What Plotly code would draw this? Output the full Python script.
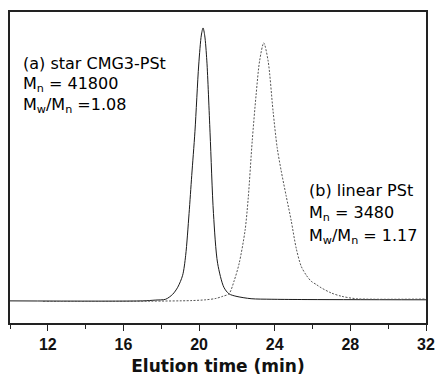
import plotly.graph_objects as go

# Elution time (min) and normalized detector response (a.u.)
t_star = [10.0, 17.0, 17.70, 18.23, 18.60, 18.87, 19.13, 19.29, 19.47, 19.61, 19.78, 19.98,
          20.12, 20.21, 20.30, 20.41, 20.58, 20.76, 20.98, 21.31, 21.58, 21.95, 22.75,
          23.81, 25.40, 32.0]
i_star = [-0.002, -0.002, 0.001, 0.004, 0.022, 0.048, 0.092, 0.165, 0.319, 0.458, 0.619, 0.864,
          0.974, 1.0, 0.971, 0.879, 0.615, 0.319, 0.136, 0.048, 0.024, 0.015, 0.006,
          0.004, 0.003, 0.002]

t_lin = [11.75, 14.78, 17.43, 19.56, 20.36, 20.89, 21.26, 21.58, 21.86, 22.12, 22.43, 22.60,
         22.81, 23.01, 23.20, 23.42, 23.65, 23.91, 24.13, 24.34, 24.60, 24.87, 25.14, 25.40,
         25.67, 25.93, 26.20, 26.46, 26.99, 27.53, 28.32, 32.0]
i_lin = [-0.004, -0.004, -0.003, -0.001, 0.002, 0.007, 0.015, 0.024, 0.073, 0.136, 0.256, 0.377,
         0.586, 0.751, 0.879, 0.945, 0.879, 0.696, 0.560, 0.476, 0.385, 0.293, 0.190, 0.125,
         0.092, 0.070, 0.058, 0.046, 0.027, 0.015, 0.006, 0.005]

tick_vals = [12, 16, 20, 24, 28, 32]
tick_text = ["12", "16", "20", "24", "28", "32"]

label_a = ["(a) star CMG3-PSt", "M<sub>n</sub> = 41800", "M<sub>w</sub>/M<sub>n</sub> =1.08"]
label_b = ["(b) linear PSt", "M<sub>n</sub> = 3480", "M<sub>w</sub>/M<sub>n</sub> = 1.17"]

fig = go.Figure()
fig.add_trace(go.Scatter(x=t_star, y=i_star, mode="lines",
                         line=dict(color="#1a1a1a", width=1, shape="spline", smoothing=0.8),
                         showlegend=False, hoverinfo="skip"))
fig.add_trace(go.Scatter(x=t_lin, y=i_lin, mode="lines",
                         line=dict(color="#555555", width=1, dash="2px,1.5px", shape="spline", smoothing=0.8),
                         showlegend=False, hoverinfo="skip"))

W, H = 437, 376
L, R, T, B = 10, 11, 11.7, 53.3
pw, ph = W - L - R, H - T - B

def px_to_paper_y(py):
    return (H - B - py) / ph

def px_to_paper_x(px):
    return (px - L) / pw

ann = []
for txt, yc in zip(label_a, [63, 84.5, 105.5]):
    ann.append(dict(text=txt, x=px_to_paper_x(21), y=px_to_paper_y(yc), xref="paper", yref="paper",
                    xanchor="left", yanchor="middle", showarrow=False,
                    font=dict(family="DejaVu Sans", size=16, color="#000000")))
for txt, yc in zip(label_b, [190, 213, 236]):
    ann.append(dict(text=txt, x=px_to_paper_x(307), y=px_to_paper_y(yc), xref="paper", yref="paper",
                    xanchor="left", yanchor="middle", showarrow=False,
                    font=dict(family="DejaVu Sans", size=16, color="#000000")))

fig.update_layout(
    width=W, height=H,
    margin=dict(l=L, r=R, t=T, b=B, pad=0),
    paper_bgcolor="white", plot_bgcolor="white",
    annotations=ann,
    xaxis=dict(range=[10, 32], tickvals=tick_vals, ticktext=tick_text,
               ticks="outside", ticklen=6, tickwidth=1.2, tickcolor="#222",
               minor=dict(tickvals=[10, 14, 18, 22, 26, 30], ticks="outside", ticklen=4,
                          tickwidth=1.2, tickcolor="#222", showgrid=False),
               showline=True, linecolor="#222", linewidth=1.5, mirror=True,
               showgrid=False, zeroline=False, automargin=False,
               tickfont=dict(family="Liberation Sans", size=16, color="#111", weight="bold"),
               title=dict(text="<b>Elution time (min)</b>", standoff=12,
                          font=dict(family="DejaVu Sans", size=17, color="#111"))),
    yaxis=dict(range=[-0.0832, 1.0586], showticklabels=False, ticks="",
               showline=True, linecolor="#222", linewidth=1.5, mirror=True,
               showgrid=False, zeroline=False, automargin=False),
)

fig.write_html("out.html")
